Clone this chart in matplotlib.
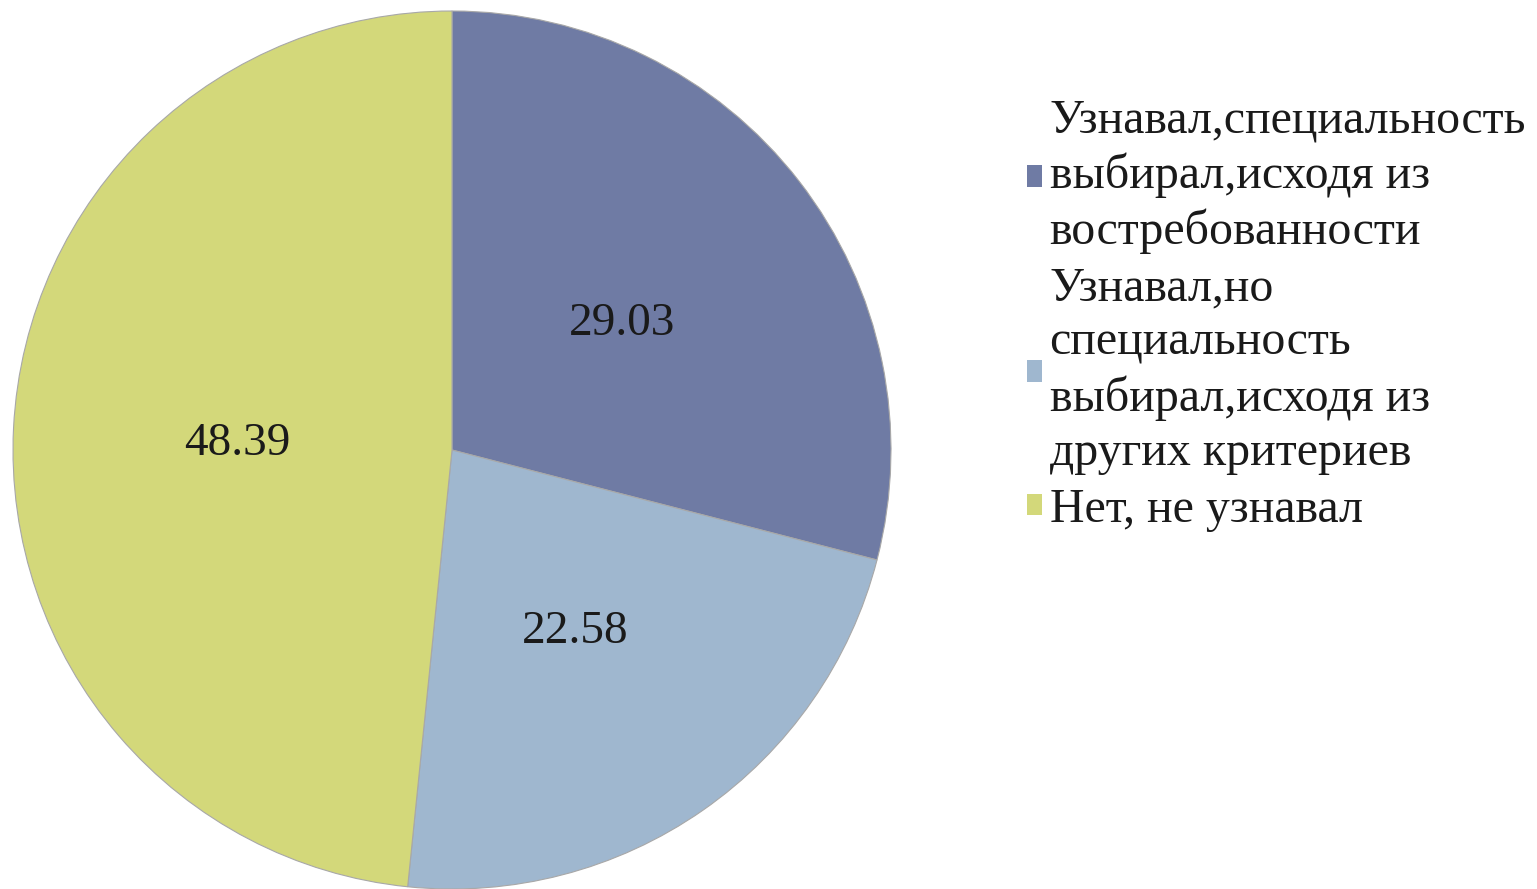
import matplotlib
matplotlib.use("Agg")
import matplotlib.pyplot as plt
from matplotlib.patches import Patch

labels = ["Узнавал,специальность\nвыбирал,исходя из\nвостребованности",
          "Узнавал,но\nспециальность\nвыбирал,исходя из\nдругих критериев",
          "Нет, не узнавал"]
values = [29.03, 22.58, 48.39]
colors = ["#6F7BA4", "#9FB7CF", "#D3D87A"]

plt.rcParams['font.family'] = ['Liberation Serif', 'DejaVu Serif']

W, H = 1537, 889
fig = plt.figure(figsize=(W/100, H/100), dpi=100)
cx, cy, r = 452, 450, 439
ax = fig.add_axes([(cx - r)/W, (H - cy - r)/H, 2*r/W, 2*r/H])
wedges, texts = ax.pie(values, colors=colors, startangle=90, counterclock=False,
                       labels=[f"{v:.2f}" for v in values], labeldistance=0.49,
                       radius=1.0,
                       wedgeprops=dict(edgecolor="#A8A8A8", linewidth=0.8),
                       textprops=dict(fontsize=34, color="#1a1a1a"))
for t in texts:
    t.set_ha('center'); t.set_va('center_baseline')
ax.set_xlim(-1, 1)
ax.set_ylim(-1, 1)
ax.set_aspect('auto')
ax.axis('off')

handles = [Patch(facecolor=c, edgecolor='none') for c in colors]
leg = fig.legend(handles, labels, loc='upper left', bbox_to_anchor=(1027/W, 1 - 98/H),
                 frameon=False, fontsize=34.5, handlelength=0.32, handleheight=0.32,
                 handletextpad=0.15, labelspacing=0.27, borderpad=0, borderaxespad=0)
for t in leg.get_texts():
    t.set_linespacing(1.295)
    t.set_color("#1a1a1a")

fig.savefig("out.png", dpi=100)
